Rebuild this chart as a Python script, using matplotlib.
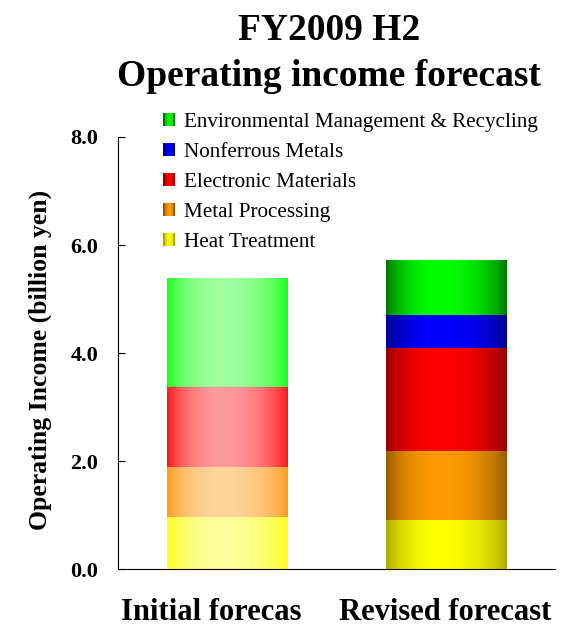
import numpy as np
import matplotlib
matplotlib.use("Agg")
import matplotlib.pyplot as plt
from matplotlib.legend_handler import HandlerBase
from matplotlib.patches import Rectangle
from matplotlib.transforms import ScaledTranslation

plt.rcParams['font.family'] = ['Liberation Serif', 'DejaVu Serif']

# operating income by segment, billion yen
scenarios = ["Initial forecas", "Revised forecast"]
segments = ["Heat Treatment", "Metal Processing", "Electronic Materials",
            "Nonferrous Metals", "Environmental Management & Recycling"]
heat_treatment = [0.96, 0.91]
metal_processing = [0.93, 1.28]
electronic_materials = [1.48, 1.90]
nonferrous_metals = [0.0, 0.61]
environmental = [2.02, 1.02]

# (edge colour, centre colour) per segment, pale set for initial, deep set for revised
pale = [((255, 255, 30), (253, 253, 155)),
        ((255, 155, 30), (253, 213, 155)),
        ((255, 20, 20), (255, 155, 155)),
        ((40, 40, 255), (160, 160, 255)),
        ((26, 255, 26), (160, 255, 160))]
deep = [((170, 170, 0), (255, 255, 0)),
        ((150, 90, 0), (255, 155, 0)),
        ((145, 0, 0), (255, 0, 0)),
        ((0, 0, 140), (0, 0, 255)),
        ((0, 115, 0), (0, 255, 0))]


def gradient(edge, centre, n=200, peak=0.45):
    t = np.linspace(0, 1, n)
    d = np.where(t < peak, peak, 1 - peak)
    w = np.clip(1 - ((t - peak) / d) ** 2, 0, 1) ** 0.8
    e = np.array(edge) / 255.0
    c = np.array(centre) / 255.0
    return (e[None, :] * (1 - w[:, None]) + c[None, :] * w[:, None])[None, :, :]


class GradientHandler(HandlerBase):
    def __init__(self, edge, centre):
        super().__init__()
        self.edge, self.centre = edge, centre

    def create_artists(self, legend, orig_handle, xdescent, ydescent,
                       width, height, fontsize, trans):
        cols = gradient(self.edge, self.centre, n=6, peak=0.6)[0]
        w = width / len(cols)
        return [Rectangle((-xdescent + i * w, -ydescent), w * 1.02, height,
                          facecolor=col, edgecolor='none', transform=trans)
                for i, col in enumerate(cols)]


fig = plt.figure(figsize=(5.75, 6.27), dpi=100)
ax = fig.add_axes([0.205, 0.0925, 0.76, 0.689])

x = np.arange(len(scenarios))
series = [heat_treatment, metal_processing, electronic_materials,
          nonferrous_metals, environmental]
bottom = np.zeros(len(scenarios))
handles = []
for k, vals in enumerate(series):
    bars = ax.bar(x, vals, 0.55, bottom=bottom, color='none', edgecolor='none')
    for j, b in enumerate(bars):
        if vals[j] <= 0:
            continue
        edge, centre = (pale if j == 0 else deep)[k]
        x0, y0 = b.get_x(), b.get_y()
        im = ax.imshow(gradient(edge, centre), aspect='auto', interpolation='bilinear',
                       extent=[x0, x0 + b.get_width(), y0, y0 + b.get_height()],
                       zorder=2)
        im.set_clip_path(b)
    handles.append(bars)
    bottom += np.array(vals)

ax.set_xlim(-0.5, 1.5)
ax.set_ylim(0, 8)
ax.set_yticks([0, 2, 4, 6, 8])
ax.set_yticklabels([f"{v:.1f}" for v in [0, 2, 4, 6, 8]], fontsize=16, fontweight='bold')
ax.set_xticks(x)
ax.set_xticklabels(scenarios, fontsize=22, fontweight='bold')
ax.tick_params(axis='x', length=0, pad=21)
ax.tick_params(axis='y', direction='in', length=5, pad=14)
# first category label sits a bit left of its bar
lab = ax.get_xticklabels()[0]
lab.set_transform(lab.get_transform() + ScaledTranslation(-0.16, 0, fig.dpi_scale_trans))
for s in ['top', 'right']:
    ax.spines[s].set_visible(False)
ax.set_ylabel("Operating Income (billion yen)", fontsize=18.5, fontweight='bold')
ax.yaxis.set_label_coords(-0.15, 0.485)

fig.suptitle("FY2009 H2\nOperating income forecast", fontsize=27, fontweight='bold',
             x=0.572, y=0.98, linespacing=1.42)

order = list(range(len(segments)))[::-1]
ax.legend([handles[i] for i in order], [segments[i] for i in order],
          handler_map={handles[i]: GradientHandler(*deep[i]) for i in order},
          loc='upper left', bbox_to_anchor=(0.06, 1.1), frameon=False,
          fontsize=15.2, handlelength=0.55, handleheight=0.55, handletextpad=0.45,
          labelspacing=0.52)

fig.savefig("out.png", dpi=100)
